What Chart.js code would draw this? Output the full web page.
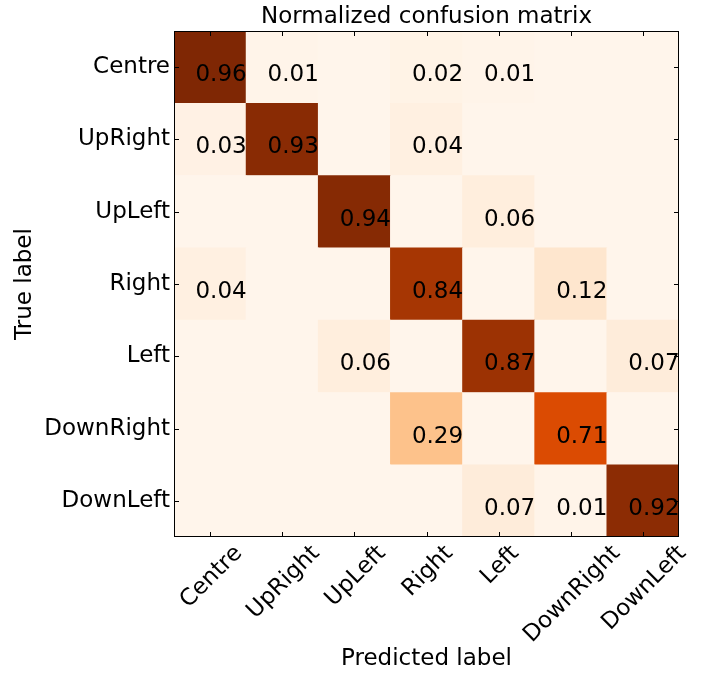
<!DOCTYPE html>
<html>
<head>
<meta charset="utf-8">
<title>Normalized confusion matrix</title>
<script src="https://cdn.jsdelivr.net/npm/chart.js@4.4.0/dist/chart.umd.min.js"></script>
<style>
  html, body { margin: 0; padding: 0; background: #fff; }
  #chart { display: block; }
</style>
</head>
<body>
<canvas id="chart" width="705" height="674"></canvas>
<script>
// Etiquetas de clase (filas = verdadero, columnas = predicho)
const classNames = ['Centre', 'UpRight', 'UpLeft', 'Right', 'Left', 'DownRight', 'DownLeft'];

// Una fila por etiqueta verdadera (0 = celda vacía, sin texto)
const rowCentre    = [0.96, 0.01, 0.00, 0.02, 0.01, 0.00, 0.00];
const rowUpRight   = [0.03, 0.93, 0.00, 0.04, 0.00, 0.00, 0.00];
const rowUpLeft    = [0.00, 0.00, 0.94, 0.00, 0.06, 0.00, 0.00];
const rowRight     = [0.04, 0.00, 0.00, 0.84, 0.00, 0.12, 0.00];
const rowLeft      = [0.00, 0.00, 0.06, 0.00, 0.87, 0.00, 0.07];
const rowDownRight = [0.00, 0.00, 0.00, 0.29, 0.00, 0.71, 0.00];
const rowDownLeft  = [0.00, 0.00, 0.00, 0.00, 0.07, 0.01, 0.92];

const matrix = [rowCentre, rowUpRight, rowUpLeft, rowRight, rowLeft, rowDownRight, rowDownLeft];

// Mapa de color "Oranges" (colorbrewer, 9 pasos)
const orangeStops = ['#fff5eb', '#fee6ce', '#fdd0a2', '#fdae6b', '#fd8d3c', '#f16913', '#d94801', '#a63603', '#7f2704'];

const FONT = 'DejaVu Sans';
const FONT_SIZE = 23;

function hexToRgb(h) {
    return [parseInt(h.slice(1, 3), 16), parseInt(h.slice(3, 5), 16), parseInt(h.slice(5, 7), 16)];
}

function orange(t) {
    t = Math.max(0, Math.min(1, t));
    const pos = t * (orangeStops.length - 1);
    const i = Math.min(Math.floor(pos), orangeStops.length - 2);
    const f = pos - i;
    const a = hexToRgb(orangeStops[i]);
    const b = hexToRgb(orangeStops[i + 1]);
    const c = a.map((v, k) => Math.round(v + (b[k] - v) * f));
    return `rgb(${c[0]}, ${c[1]}, ${c[2]})`;
}

const vmax = Math.max(...matrix.flat());

const cells = [];
matrix.forEach((row, i) => {
    row.forEach((v, j) => cells.push({ x: j, y: i, v: v }));
});

const integerTicks = scale => {
    scale.ticks = classNames.map((_, k) => ({ value: k }));
};

// Marco, marcas hacia dentro, valores de celda y etiquetas X giradas
const matrixDecor = {
    id: 'matrixDecor',
    afterDatasetsDraw(chart) {
        const { ctx, chartArea: a, scales: { x, y } } = chart;
        ctx.save();

        // valores
        ctx.font = `${FONT_SIZE}px "${FONT}"`;
        ctx.fillStyle = '#000';
        ctx.textAlign = 'center';
        ctx.textBaseline = 'alphabetic';
        const meta = chart.getDatasetMeta(0);
        meta.data.forEach((el, k) => {
            const v = cells[k].v;
            if (v <= 0) return;
            ctx.fillText(v.toFixed(2), el.x + 11, el.y + 14);
        });

        // marcas
        ctx.strokeStyle = '#000';
        ctx.lineWidth = 1;
        ctx.beginPath();
        const tl = 5;
        classNames.forEach((_, k) => {
            const px = Math.round(x.getPixelForValue(k)) + 0.5;
            ctx.moveTo(px, a.bottom); ctx.lineTo(px, a.bottom - tl);
            ctx.moveTo(px, a.top); ctx.lineTo(px, a.top + tl);
            const py = Math.round(y.getPixelForValue(k)) + 0.5;
            ctx.moveTo(a.left, py); ctx.lineTo(a.left + tl, py);
            ctx.moveTo(a.right, py); ctx.lineTo(a.right - tl, py);
        });
        ctx.stroke();

        // marco
        ctx.strokeRect(Math.round(a.left) + 0.5, Math.round(a.top) + 0.5,
            Math.round(a.right - a.left) - 1, Math.round(a.bottom - a.top) - 1);

        // etiquetas del eje X a 45 grados, centradas en la marca
        const lineH = FONT_SIZE * 1.164;
        classNames.forEach((label, k) => {
            const w = ctx.measureText(label).width;
            const boxH = (w + lineH) * Math.SQRT1_2;
            const px = x.getPixelForValue(k);
            ctx.save();
            ctx.translate(px, a.bottom + 2 + boxH / 2);
            ctx.rotate(-Math.PI / 4);
            ctx.textAlign = 'center';
            ctx.textBaseline = 'alphabetic';
            ctx.fillText(label, 0, FONT_SIZE * 0.346);
            ctx.restore();
        });

        ctx.restore();
    }
};

Chart.defaults.font.family = FONT;
Chart.defaults.color = '#000';

new Chart(document.getElementById('chart'), {
    type: 'scatter',
    data: {
        datasets: [{
            data: cells,
            pointStyle: 'rect',
            borderWidth: 0,
            pointBorderWidth: 0,
            backgroundColor: c => orange(c.raw.v / vmax),
            pointRadius: c => {
                const a = c.chart.chartArea;
                if (!a) return 0;
                const side = Math.max((a.right - a.left), (a.bottom - a.top)) / classNames.length + 0.6;
                return side * Math.SQRT1_2;
            }
        }]
    },
    options: {
        responsive: false,
        devicePixelRatio: 1,
        animation: false,
        events: [],
        layout: { padding: { left: 0, right: 26, top: 0, bottom: 0 } },
        plugins: {
            legend: { display: false },
            tooltip: { enabled: false },
            title: {
                display: true,
                fullSize: false,
                text: 'Normalized confusion matrix',
                color: '#000',
                font: { size: FONT_SIZE, weight: 'normal', lineHeight: 1 },
                padding: { top: 5.5, bottom: 2.5 }
            }
        },
        scales: {
            x: {
                type: 'linear',
                position: 'bottom',
                min: -0.5,
                max: 6.5,
                afterBuildTicks: integerTicks,
                afterFit: s => { s.height = 137; },
                ticks: { display: false },
                grid: { display: false, drawTicks: false },
                border: { display: false },
                title: {
                    display: true,
                    text: 'Predicted label',
                    font: { size: FONT_SIZE, lineHeight: 1 },
                    padding: { top: 0, bottom: 3.8 }
                }
            },
            y: {
                type: 'linear',
                position: 'left',
                reverse: true,
                min: -0.5,
                max: 6.5,
                afterBuildTicks: integerTicks,
                afterFit: s => { s.width = 174; },
                ticks: {
                    autoSkip: false,
                    padding: 4,
                    font: { size: FONT_SIZE },
                    callback: v => classNames[v]
                },
                grid: { display: false, drawTicks: false },
                border: { display: false },
                title: {
                    display: true,
                    text: 'True label',
                    font: { size: FONT_SIZE, lineHeight: 1 },
                    padding: { top: 13.5, bottom: 0 }
                }
            }
        }
    },
    plugins: [matrixDecor]
});
</script>
</body>
</html>
